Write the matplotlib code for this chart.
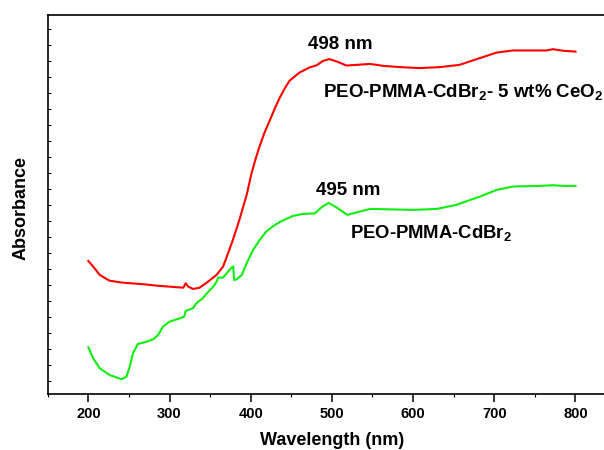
import matplotlib
matplotlib.use("Agg")
import matplotlib.pyplot as plt
from matplotlib.ticker import MultipleLocator

plt.rcParams['font.family'] = ['Liberation Sans', 'DejaVu Sans']
plt.rcParams['font.weight'] = 'bold'
plt.rcParams['mathtext.fontset'] = 'custom'
plt.rcParams['mathtext.rm'] = 'Liberation Sans:bold'
plt.rcParams['mathtext.bf'] = 'Liberation Sans:bold'
plt.rcParams['mathtext.it'] = 'Liberation Sans:bold'

# Red: PEO-PMMA-CdBr2 - 5 wt% CeO2
red_wl = [200, 206, 214, 226, 241, 267, 288, 317, 320, 323, 329, 337, 345, 358, 366,
          370, 378, 386, 395, 401, 406, 411, 417, 423, 430, 436, 442, 448, 460, 473,
          481, 489, 497, 506, 518, 530, 547, 563, 584, 608, 633, 657, 682, 703, 723,
          747, 764, 772, 785, 800]
red_abs = [0.753, 0.718, 0.666, 0.630, 0.618, 0.608, 0.597, 0.586, 0.614, 0.593, 0.578,
           0.586, 0.614, 0.666, 0.718, 0.772, 0.884, 1.009, 1.165, 1.300, 1.390, 1.470,
           1.555, 1.625, 1.710, 1.775, 1.832, 1.880, 1.930, 1.963, 1.975, 2.003, 2.014,
           1.999, 1.974, 1.978, 1.984, 1.972, 1.964, 1.958, 1.964, 1.978, 2.020, 2.055,
           2.068, 2.068, 2.068, 2.076, 2.066, 2.061]

# Green: PEO-PMMA-CdBr2
green_wl = [200, 206, 214, 226, 241, 247, 251, 255, 261, 272, 280, 286, 292, 300, 313,
            318, 320, 329, 333, 341, 346, 354, 358, 360, 366, 372, 377, 378.5, 379.5, 383,
            389, 395, 403, 411, 419, 428, 436, 452, 464, 479, 487, 496, 507, 519, 534, 547,
            567, 600, 629, 653, 682, 703, 723, 756, 772, 785, 800]
green_abs = [0.214, 0.145, 0.083, 0.041, 0.014, 0.030, 0.093, 0.176, 0.234, 0.249, 0.264,
             0.291, 0.343, 0.374, 0.395, 0.405, 0.441, 0.458, 0.489, 0.520, 0.551, 0.593,
             0.624, 0.649, 0.649, 0.686, 0.714, 0.718, 0.634, 0.639, 0.666, 0.739, 0.822,
             0.884, 0.936, 0.972, 0.997, 1.034, 1.047, 1.050, 1.088, 1.116, 1.083, 1.041,
             1.061, 1.078, 1.076, 1.072, 1.078, 1.103, 1.155, 1.197, 1.218, 1.222, 1.226,
             1.222, 1.222]

x_ticks = [200, 300, 400, 500, 600, 700, 800]

fig = plt.figure(figsize=(6.04, 4.5), dpi=100)
ax = fig.add_axes([0.079, 0.1238, 0.941, 0.843])

ax.plot(red_wl, red_abs, color='#ff0000', lw=1.5, solid_joinstyle='round')
ax.plot(green_wl, green_abs, color='#11ee11', lw=1.5, solid_joinstyle='round')

ax.set_xlim(150, 850)
ax.set_ylim(-0.08, 2.29)
ax.set_xticks(x_ticks)
ax.xaxis.set_minor_locator(MultipleLocator(50))
ax.yaxis.set_major_locator(MultipleLocator(0.1))
ax.set_yticklabels([])
ax.tick_params(axis='x', which='major', direction='out', length=5.5, width=1.1,
               labelsize=10.5, pad=3.3)
ax.tick_params(axis='x', which='minor', direction='out', length=2, width=0.8)
ax.tick_params(axis='y', which='major', direction='in', length=2, width=0.8, left=True)
for lab in ax.get_xticklabels():
    lab.set_fontweight('bold')

for s in ['left', 'bottom', 'top']:
    ax.spines[s].set_linewidth(1.2)
ax.spines['right'].set_visible(False)

ax.set_xlabel('Wavelength (nm)', fontsize=13, fontweight='bold')
ax.xaxis.set_label_coords(0.5, -0.099)
ax.set_ylabel('Absorbance', fontsize=13, fontweight='bold')
ax.yaxis.set_label_coords(-0.032, 0.491)

ax.text(510, 2.106, '498 nm', fontsize=13.5, fontweight='bold', ha='center', va='center')
ax.text(489, 1.778, r'PEO-PMMA-CdBr$_{2}$- 5 wt% CeO$_{2}$', fontsize=13.5,
        fontweight='bold', ha='left', va='baseline')
ax.text(520, 1.191, '495 nm', fontsize=13.5, fontweight='bold', ha='center', va='center')
ax.text(522.3, 0.897, r'PEO-PMMA-CdBr$_{2}$', fontsize=13.3, fontweight='bold',
        ha='left', va='baseline')

fig.savefig('out.png', dpi=100)
